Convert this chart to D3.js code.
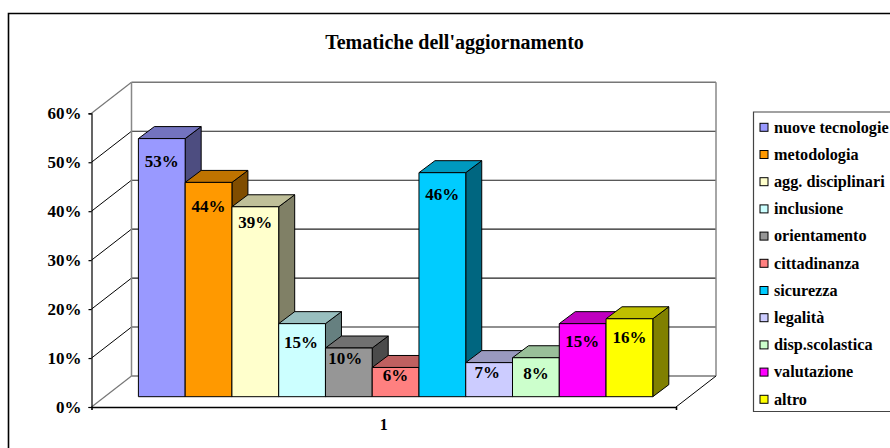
<!DOCTYPE html>
<html><head><meta charset="utf-8">
<script src="https://cdn.jsdelivr.net/npm/d3@7/dist/d3.min.js"></script>
<style>html,body{margin:0;padding:0;background:#fff;overflow:hidden}svg{display:block}
text{font-family:"Liberation Serif",serif;font-weight:700;fill:#000}</style></head>
<body><svg id="c" width="890" height="448"></svg>
<script>
const categories=["nuove tecnologie","metodologia","agg. disciplinari","inclusione","orientamento","cittadinanza","sicurezza","legalità","disp.scolastica","valutazione","altro"];
const values=[53,44,39,15,10,6,46,7,8,15,16];
const colors=["#9999FF","#FF9900","#FFFFCC","#CCFFFF","#969696","#FF8080","#00CCFF","#CCCCFF","#CCFFCC","#FF00FF","#FFFF00"];
const yTicks=[0,10,20,30,40,50,60];
const xLabels=["1"];
const title="Tematiche dell'aggiornamento";

// layout
const labelDrop=[28,29.5,21,24,16,13.7,27,15,21,23,24];
const labelShift=[0,0,0,-1,-3.5,0,0,-2,0,-.5,0];
const svg=d3.select("#c");
const y=d3.scaleLinear().domain([0,60]).range([407,113.3]);
const yBar=d3.scaleLinear().domain([0,60]).range([396.7,104.5]);
const floorX=[91.5,676];
const wallDx=40,wallDy=-31;
const barDx=16,barDy=-12;
const x=d3.scaleBand().domain(categories).range([138.4,652.8]);

// outer frame (open at right and bottom)
svg.append("path").attr("d",d3.line()([[8.5,448],[8.5,13.5],[890,13.5]]))
  .attr("fill","none").attr("stroke","#000").attr("stroke-width",1.6);

svg.append("text").attr("x",454.5).attr("y",49).attr("text-anchor","middle")
  .style("font-size","20px").text(title);

const seg=(a,b,c,w)=>svg.append("line").attr("x1",a[0]).attr("y1",a[1]).attr("x2",b[0]).attr("y2",b[1])
  .attr("stroke",c).attr("stroke-width",w);
const bx0=floorX[0]+wallDx,bx1=floorX[1]+wallDx;

// wall gridlines
yTicks.forEach(t=>{
  const edge=t===0||t===60;
  seg([floorX[0],y(t)],[bx0,y(t)+wallDy],edge?"#777":"#000",edge?1.2:1);
  seg([bx0,y(t)+wallDy],[bx1,y(t)+wallDy],edge?"#777":"#222",edge?1.5:1.1);
});
seg([bx0,y(0)+wallDy],[bx0,y(60)+wallDy],"#888",1.5);
seg([bx1,y(0)+wallDy],[bx1,y(60)+wallDy],"#888",1.5);
seg([floorX[1],y(0)],[bx1,y(0)+wallDy],"#000",1);

// bars
const shade=(c,k)=>{const r=d3.rgb(c);return d3.rgb(r.r*k,r.g*k,r.b*k).formatHex();};
const g=svg.append("g").attr("stroke","#000").attr("stroke-width",1).attr("stroke-linejoin","round");
const w=x.bandwidth();
categories.forEach((c,i)=>{
  const x0=x(c),x1=x0+w,t=yBar(values[i]),b=yBar(0);
  g.append("path").attr("fill",shade(colors[i],.5))
    .attr("d",d3.line()([[x1,t],[x1+barDx,t+barDy],[x1+barDx,b+barDy],[x1,b]])+"Z");
  g.append("path").attr("fill",shade(colors[i],.75))
    .attr("d",d3.line()([[x0,t],[x0+barDx,t+barDy],[x1+barDx,t+barDy],[x1,t]])+"Z");
  g.append("rect").attr("x",x0).attr("y",t).attr("width",w).attr("height",b-t).attr("fill",colors[i]);
});
categories.forEach((c,i)=>{
  svg.append("text").attr("x",x(c)+w/2+labelShift[i]).attr("y",yBar(values[i])+labelDrop[i])
    .attr("text-anchor","middle").style("font-size","17px").text(values[i]+"%");
});

// axes
const ay=svg.append("g").attr("transform",`translate(${floorX[0]},0)`)
  .call(d3.axisLeft(y).tickValues(yTicks).tickFormat(d=>d+"%").tickSize(3).tickPadding(7));
ay.selectAll("text").style("font-size","17px").attr("font-family",null);
ay.selectAll("line").attr("stroke","#000").attr("stroke-width",1.2);
ay.select(".domain").attr("stroke","#000").attr("stroke-width",1.2);

const xAxis=d3.scaleBand().domain(xLabels).range(floorX);
const ax=svg.append("g").attr("transform",`translate(0,${y(0)})`)
  .call(d3.axisBottom(xAxis).tickSize(0).tickPadding(12).tickSizeOuter(3));
ax.selectAll("text").style("font-size","16px");
ax.select(".domain").attr("stroke","#000").attr("stroke-width",1.6);

// legend
const lx=753.5,ly0=112,ly1=411.5;
svg.append("path").attr("d",d3.line()([[890,ly0],[lx,ly0],[lx,ly1],[890,ly1]]))
  .attr("fill","#fff").attr("stroke","#444").attr("stroke-width",1.2);
const ly=d3.scalePoint().domain(categories).range([127.3,399.3]);
categories.forEach((c,i)=>{
  svg.append("rect").attr("x",760).attr("y",ly(c)-4).attr("width",8).attr("height",8)
    .attr("fill",colors[i]).attr("stroke","#000").attr("stroke-width",1);
  svg.append("text").attr("x",774).attr("y",ly(c)+5.2).style("font-size","16.2px").text(c);
});
</script></body></html>
